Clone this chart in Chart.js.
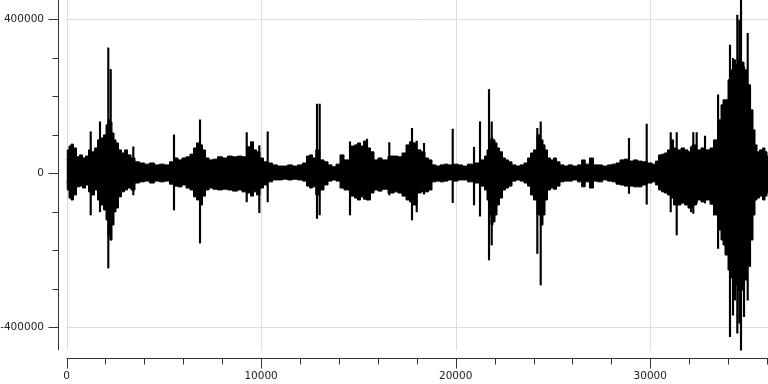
<!DOCTYPE html>
<html>
<head>
<meta charset="utf-8">
<script src="https://cdn.jsdelivr.net/npm/chart.js@4.4.0/dist/chart.umd.min.js"></script>
<style>
  html, body { margin: 0; padding: 0; background: #fff; }
  #wrapper { width: 768px; height: 384px; }
</style>
</head>
<body>
<div id="wrapper"><canvas id="senal"></canvas></div>
<script>
// envelope of the signal (sample index, max, min)
var envX = [0, 77, 180, 283, 437, 591, 745, 899, 1053, 1208, 1362, 1516, 1670, 1824, 1979, 2081, 2184, 2287, 2390, 2492,
  2595, 2750, 2904, 3058, 3212, 3418, 3623, 3880, 4137, 4394, 4651, 4908, 5165, 5422, 5627, 5833, 6038, 6244, 6449, 6604,
  6758, 6912, 7066, 7220, 7426, 7631, 7888, 8145, 8402, 8659, 8916, 9122, 9379, 9533, 9687, 9841, 10047, 10201, 10458, 10715,
  10972, 11229, 11486, 11743, 12000, 12257, 12411, 12565, 12719, 12900, 13130, 13336, 13541, 13747, 13953, 14158, 14364, 14724, 14878, 15032,
  15187, 15341, 15546, 15700, 15906, 16111, 16317, 16728, 16933, 17139, 17344, 17550, 17704, 17910, 18115, 18321, 18526, 18680, 18886, 19091,
  19297, 19502, 19708, 20016, 20222, 20479, 20736, 21095, 21404, 21558, 21661, 21764, 21867, 21969, 22072, 22175, 22329, 22483, 22637, 22792,
  22997, 23203, 23408, 23614, 23768, 23922, 24076, 24282, 24436, 24539, 24642, 24796, 24950, 25104, 25258, 25464, 25669, 25875, 26132, 26389,
  26559, 26749, 27000, 27160, 27417, 27674, 27931, 28137, 28342, 28548, 28753, 29062, 29216, 29473, 29678, 29987, 30193, 30347, 30501, 30655,
  30809, 30963, 31117, 31271, 31477, 31682, 31836, 32042, 32250, 32504, 32710, 32967, 33172, 33327, 33584, 33686, 33789, 33892, 34097, 34252,
  34406, 34560, 34714, 34920, 35074, 35228, 35331, 35434, 35537, 35691, 35845, 35948, 36050];
var envHigh = [34000, 60000, 70000, 75000, 65000, 42000, 47000, 39000, 44000, 60000, 55000, 65000, 86000, 91000, 99000, 125000, 138000, 132000, 104000, 86000,
  78000, 60000, 52000, 60000, 47000, 39000, 29000, 26000, 23000, 26000, 21000, 23000, 21000, 29000, 39000, 34000, 39000, 42000, 49000, 65000,
  78000, 73000, 60000, 39000, 34000, 36000, 42000, 39000, 44000, 42000, 44000, 42000, 68000, 81000, 60000, 55000, 39000, 29000, 26000, 21000,
  18000, 18000, 21000, 18000, 21000, 26000, 44000, 47000, 39000, 60000, 34000, 29000, 21000, 16000, 23000, 47000, 34000, 70000, 73000, 78000,
  70000, 83000, 65000, 55000, 34000, 39000, 34000, 44000, 44000, 42000, 52000, 73000, 81000, 78000, 60000, 55000, 39000, 34000, 21000, 18000,
  21000, 23000, 21000, 23000, 21000, 18000, 23000, 26000, 34000, 44000, 60000, 86000, 91000, 86000, 78000, 65000, 55000, 39000, 34000, 29000,
  21000, 18000, 21000, 26000, 39000, 52000, 60000, 99000, 86000, 73000, 60000, 39000, 34000, 39000, 29000, 21000, 18000, 21000, 18000, 21000,
  34000, 23000, 39000, 21000, 21000, 18000, 21000, 23000, 26000, 34000, 36000, 31000, 34000, 31000, 29000, 26000, 23000, 31000, 47000, 49000,
  52000, 60000, 86000, 65000, 60000, 65000, 60000, 55000, 73000, 60000, 65000, 60000, 65000, 86000, 138000, 177000, 190000, 190000, 242000, 268000,
  281000, 294000, 288000, 268000, 229000, 164000, 112000, 73000, 55000, 60000, 65000, 55000, 44000];
var envLow = [-23000, -44000, -65000, -70000, -57000, -36000, -34000, -39000, -31000, -49000, -57000, -44000, -70000, -83000, -96000, -122000, -161000, -174000, -135000, -101000,
  -91000, -62000, -49000, -44000, -39000, -44000, -26000, -23000, -21000, -26000, -21000, -23000, -21000, -29000, -34000, -36000, -31000, -39000, -44000, -62000,
  -70000, -83000, -60000, -44000, -39000, -42000, -44000, -42000, -44000, -47000, -44000, -49000, -52000, -60000, -49000, -57000, -39000, -31000, -23000, -18000,
  -18000, -16000, -18000, -16000, -18000, -21000, -34000, -39000, -36000, -57000, -44000, -31000, -21000, -18000, -21000, -39000, -44000, -60000, -65000, -70000,
  -62000, -68000, -70000, -52000, -44000, -47000, -42000, -52000, -49000, -52000, -60000, -70000, -75000, -83000, -52000, -49000, -49000, -44000, -23000, -21000,
  -23000, -21000, -18000, -21000, -18000, -18000, -23000, -26000, -34000, -44000, -70000, -109000, -135000, -127000, -109000, -83000, -65000, -44000, -39000, -34000,
  -21000, -18000, -21000, -26000, -34000, -57000, -70000, -109000, -135000, -109000, -70000, -44000, -39000, -42000, -34000, -23000, -21000, -21000, -18000, -23000,
  -36000, -23000, -39000, -21000, -23000, -18000, -21000, -23000, -29000, -31000, -34000, -34000, -36000, -36000, -31000, -26000, -23000, -31000, -44000, -49000,
  -52000, -57000, -65000, -83000, -83000, -78000, -83000, -91000, -83000, -70000, -75000, -70000, -81000, -109000, -148000, -174000, -187000, -213000, -252000, -273000,
  -291000, -304000, -304000, -278000, -239000, -174000, -109000, -70000, -65000, -60000, -70000, -60000, -52000];

// single samples that stick out of the envelope
var spikeX = [1244, 1722, 2148, 2271, 3433, 5524, 6861, 9261, 9908, 10340, 12873, 13012, 14569, 15443, 16589, 17755, 17997, 18372, 19847, 20942,
  21250, 21713, 21852, 24195, 24369, 28907, 29816, 31050, 31358, 32093, 32211, 32386, 32813, 33485, 34097, 34252, 34354, 34473, 34576, 34663,
  34817, 35007, 35125];
var spikeHigh = [107000, 133000, 325000, 269000, 68000, 99000, 138000, 105000, 71000, 107000, 179000, 179000, 81000, 88000, 79000, 116000, 83000, 77000, 114000, 67000,
  133000, 217000, 133000, 116000, 133000, 90000, 127000, 105000, 105000, 68000, 105000, 105000, 96000, 203000, 332000, 298000, 294000, 410000, 397000, 449000,
  276000, 363000, 224000];
var spikeLow = [-109000, -101000, -247000, -174000, -57000, -96000, -182000, -75000, -103000, -75000, -118000, -109000, -109000, -70000, -57000, -122000, -101000, -55000, -77000, -83000,
  -112000, -226000, -187000, -209000, -291000, -53000, -81000, -101000, -161000, -101000, -105000, -78000, -78000, -196000, -425000, -369000, -330000, -416000, -390000, -460000,
  -373000, -330000, -243000];

var xTicks = [0, 2000, 4000, 6000, 8000, 10000, 12000, 14000, 16000, 18000, 20000, 22000, 24000, 26000, 28000, 30000, 32000, 34000, 36000];
var yTicks = [-400000, -300000, -200000, -100000, 0, 100000, 200000, 300000, 400000];
var xLabelEvery = 10000;
var yLabelEvery = 400000;

// plotted extent (the axes sit a few pixels away from it)
var xFrom = 0, xTo = 36050, yFrom = -460000, yTo = 449350;

var ejes = {
  id: 'ejes',
  beforeDatasetsDraw(chart) {
    var ctx = chart.ctx, a = chart.chartArea;
    var sx = chart.scales.x, sy = chart.scales.y;
    var left = sx.getPixelForValue(xFrom), right = a.right;
    var top = a.top, bottom = sy.getPixelForValue(yFrom);
    function seg(x1, y1, x2, y2) {
      ctx.beginPath(); ctx.moveTo(x1, y1); ctx.lineTo(x2, y2); ctx.stroke();
    }
    ctx.save();
    ctx.lineWidth = 1;
    ctx.strokeStyle = '#dcdcdc';
    xTicks.forEach(v => {
      if (v % xLabelEvery === 0) {
        var p = Math.round(sx.getPixelForValue(v)) + 0.5;
        seg(p, top, p, bottom);
      }
    });
    yTicks.forEach(v => {
      if (v % yLabelEvery === 0) {
        var p = Math.round(sy.getPixelForValue(v)) + 0.5;
        seg(left, p, right, p);
      }
    });
    ctx.strokeStyle = '#333';
    var ax = Math.round(a.left) + 0.5;
    seg(ax, top, ax, bottom);
    yTicks.forEach(v => {
      var len = v % yLabelEvery === 0 ? 10 : 6;
      var p = Math.round(sy.getPixelForValue(v)) + 0.5;
      seg(ax - len, p, ax, p);
    });
    var ay = Math.round(a.bottom) + 0.5;
    seg(left, ay, right, ay);
    xTicks.forEach(v => {
      var len = v % xLabelEvery === 0 ? 10 : 6;
      var p = Math.round(sx.getPixelForValue(v)) + 0.5;
      seg(p, ay, p, ay + len);
    });
    ctx.restore();
  }
};

function sinPadding(s) {
  s.paddingTop = 0; s.paddingBottom = 0; s.paddingLeft = 0; s.paddingRight = 0;
}

var fuente = { family: "'DejaVu Sans', sans-serif", size: 10.5 };

new Chart(document.getElementById('senal'), {
  type: 'line',
  data: {
    datasets: [
      {
        data: envX.map((x, i) => ({ x: x, y: envHigh[i] })),
        borderColor: '#000', backgroundColor: '#000', borderWidth: 1,
        pointRadius: 0, fill: 'origin', stepped: 'middle'
      },
      {
        data: envX.map((x, i) => ({ x: x, y: envLow[i] })),
        borderColor: '#000', backgroundColor: '#000', borderWidth: 1,
        pointRadius: 0, fill: 'origin', stepped: 'middle'
      },
      {
        type: 'bar',
        data: spikeX.map((x, i) => ({ x: x, y: [spikeLow[i], spikeHigh[i]] })),
        backgroundColor: '#000', borderWidth: 0,
        barThickness: 1.5, grouped: false
      }
    ]
  },
  options: {
    responsive: true,
    maintainAspectRatio: false,
    animation: false,
    layout: { padding: 0 },
    plugins: { legend: { display: false }, tooltip: { enabled: false } },
    scales: {
      x: {
        type: 'linear', min: -437, max: xTo, offset: false,
        grid: { display: false, drawTicks: false }, border: { display: false },
        afterBuildTicks: s => { s.ticks = xTicks.map(v => ({ value: v })); },
        afterFit: s => { s.height = 26; sinPadding(s); },
        ticks: {
          autoSkip: false, maxRotation: 0, padding: 12, color: '#222', font: fuente,
          callback: v => (v % xLabelEvery === 0 ? String(v) : '')
        }
      },
      y: {
        type: 'linear', min: -480500, max: yTo,
        grid: { display: false, drawTicks: false }, border: { display: false },
        afterBuildTicks: s => { s.ticks = yTicks.map(v => ({ value: v })); },
        afterFit: s => { s.width = 58; sinPadding(s); },
        ticks: {
          autoSkip: false, padding: 14, color: '#222', font: fuente,
          callback: v => (v % yLabelEvery === 0 ? String(v) : '')
        }
      }
    }
  },
  plugins: [ejes]
});
</script>
</body>
</html>
